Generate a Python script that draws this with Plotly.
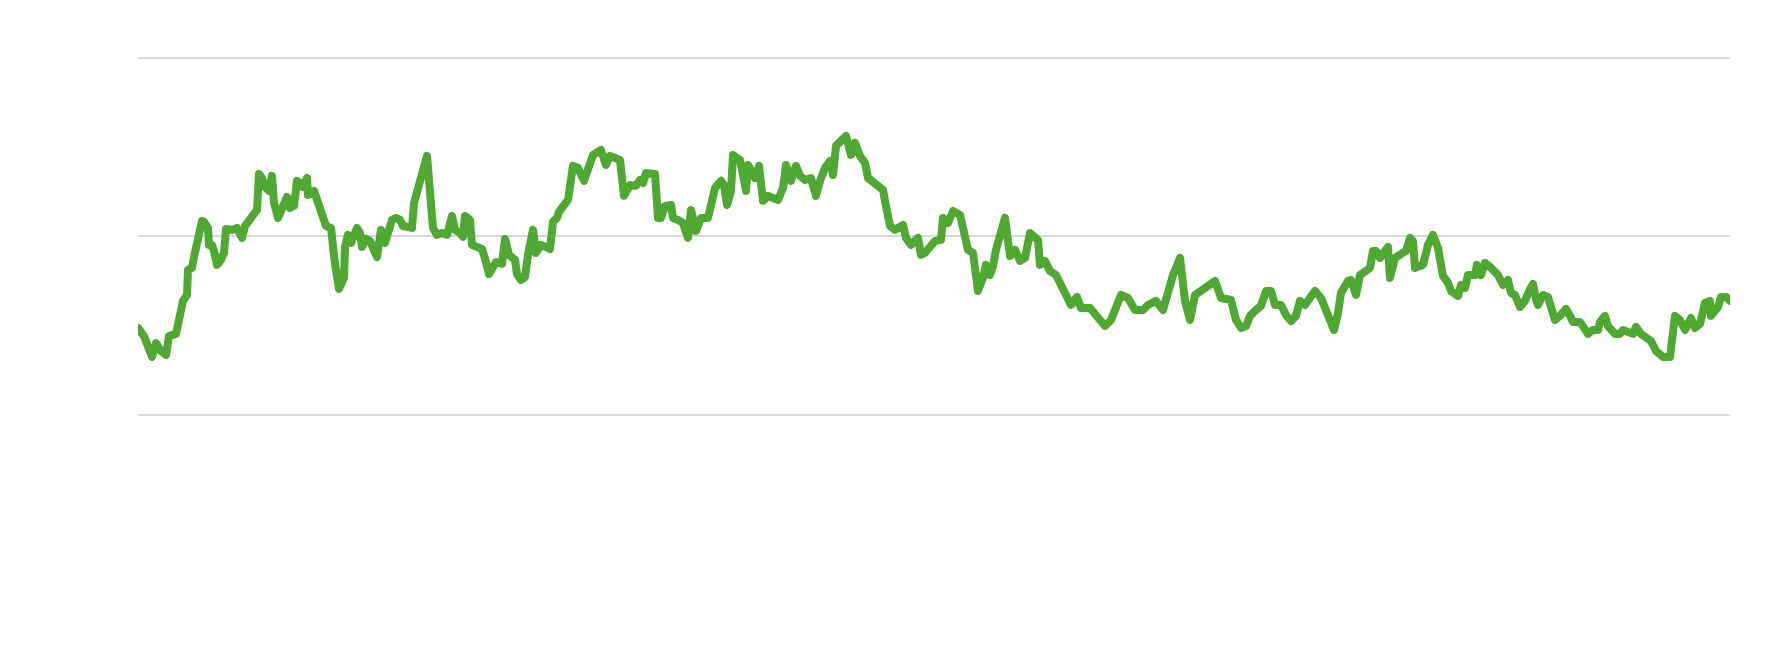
import plotly.graph_objects as go

# position along the series (time steps) and observed values
step = [0,6,14,18,23,28,31,35,38,45,
        49,50,54,56,59,61,64,66,70,71,
        74,76,79,83,86,88,94,99,104,107,
        112,115,119,121,124,127,131,134,136,140,
        144,149,152,156,159,165,169,170,176,180,
        186,188,193,195,197,201,206,207,210,213,
        216,219,222,224,228,232,239,243,247,250,
        254,258,262,265,274,276,279,283,289,295,
        299,304,309,314,317,322,325,327,332,334,
        344,348,351,358,364,367,371,377,379,383,
        387,390,395,398,403,408,412,415,419,421,
        430,435,440,446,450,455,463,468,472,482,
        486,492,498,502,505,508,517,520,523,527,
        533,535,540,545,550,553,558,563,570,573,
        577,583,586,589,593,595,602,608,610,613,
        617,621,625,630,640,645,648,653,658,662,
        667,673,678,682,687,692,695,698,703,708,
        713,717,722,727,730,737,745,748,752,757,
        765,768,773,780,783,787,797,803,805,810,
        815,822,825,830,835,840,845,848,852,855,
        858,862,867,872,877,882,887,892,900,902,
        907,912,918,923,928,933,939,943,952,960,
        967,973,978,983,990,997,1005,1010,1018,1025,
        1035,1042,1047,1052,1057,1063,1068,1077,1083,1093,
        1098,1103,1108,1112,1117,1123,1128,1133,1137,1143,
        1148,1153,1158,1162,1167,1177,1183,1192,1196,1200,
        1203,1210,1213,1218,1222,1232,1235,1238,1242,1250,
        1252,1257,1268,1272,1275,1277,1285,1290,1295,1300,
        1305,1310,1313,1320,1323,1327,1330,1337,1339,1343,
        1347,1353,1360,1365,1370,1373,1377,1382,1387,1392,
        1395,1398,1400,1405,1410,1413,1417,1422,1428,1432,
        1435,1442,1445,1450,1455,1460,1462,1467,1470,1477,
        1482,1485,1495,1498,1503,1513,1518,1525,1532,1535,
        1537,1542,1547,1550,1553,1557,1562,1567,1572,1573,
        1580,1583,1588,1592]

value = [48.6,44.1,32.4,40.2,35.7,33.5,44.1,45.3,45.3,63.8,
         67.1,81.2,82.3,88.4,96.3,100.8,108.6,108.1,104.7,95.2,
         95.2,91.8,84.0,86.8,90.7,104.1,103.6,104.7,99.1,105.8,
         110.3,112.6,114.8,135.0,132.7,127.7,125.5,133.9,118.7,110.3,
         117.0,122.1,115.9,117.0,131.1,127.7,132.7,123.2,125.5,119.9,
         111.4,105.8,104.7,88.4,84.5,70.5,76.7,94.1,100.8,96.3,
         99.7,104.7,101.9,94.1,98.5,97.4,88.4,103.6,96.3,100.8,
         109.2,110.3,109.2,105.8,104.7,118.7,125.5,133.9,145.1,104.7,
         100.8,101.9,100.8,111.4,103.6,101.9,99.7,111.4,109.2,95.2,
         92.9,85.6,78.9,85.6,84.5,98.5,89.6,86.8,78.9,75.5,
         77.2,89.6,103.6,90.7,95.2,94.1,92.9,108.1,110.3,113.7,
         120.4,139.5,138.4,131.1,138.4,145.6,148.4,140.0,145.1,142.8,
         122.7,128.8,128.3,131.6,129.9,135.5,135.0,110.3,110.3,117.0,
         117.6,110.3,109.2,107.5,99.1,114.8,103.0,110.3,110.3,117.6,
         127.1,131.1,128.8,117.6,125.5,145.6,142.8,125.5,140.0,137.2,
         132.7,139.5,119.9,122.7,120.4,127.1,140.0,131.1,139.5,133.9,
         131.6,132.7,122.7,131.1,138.4,142.3,134.4,150.7,153.5,156.3,
         145.6,152.4,145.1,141.2,132.7,129.9,126.0,117.0,105.8,103.6,
         106.4,99.1,95.2,99.1,89.6,90.7,97.4,98.0,110.3,107.5,
         114.2,112.0,104.7,92.4,90.7,69.4,76.7,84.0,78.3,83.4,
         92.4,100.8,110.3,89.0,92.4,86.2,87.9,101.9,98.0,84.0,
         86.2,80.6,78.3,72.7,67.1,61.5,66.0,59.8,59.8,54.2,
         49.7,53.1,59.8,67.1,65.4,58.7,58.7,61.5,63.8,58.7,
         78.3,87.9,63.8,53.1,67.1,69.4,71.1,75.0,65.4,64.3,
         53.1,48.6,49.7,55.4,58.2,61.0,69.4,69.4,61.5,61.5,
         55.9,52.5,55.4,63.8,61.5,69.4,65.4,53.1,47.5,57.0,
         68.3,75.0,75.5,67.1,78.3,82.3,91.8,91.8,87.9,94.1,
         76.7,87.9,91.8,99.1,97.4,82.3,84.0,95.2,100.8,93.5,
         77.8,73.9,69.4,66.6,72.7,71.1,78.3,78.3,84.0,78.3,
         85.1,82.3,78.3,72.7,75.5,68.3,67.1,60.4,63.8,70.5,
         73.3,64.9,61.5,67.1,66.0,60.4,53.1,55.4,59.3,55.4,
         52.0,52.0,48.6,45.3,47.5,47.5,52.0,55.4,49.7,45.3,
         45.3,47.5,45.3,49.2,45.3,41.3,35.7,32.4,32.4,50.9,
         55.4,53.1,47.5,50.9,54.2,48.6,50.9,62.6,63.8,55.4,
         60.4,66.0,66.0,63.8]

grid_values = [0, 100, 200]

fig = go.Figure()
fig.add_trace(go.Scatter(
    x=step, y=value, mode="lines",
    line=dict(color="#4fa832", width=8, shape="linear"),
    hoverinfo="skip", showlegend=False, cliponaxis=False,
))

fig.update_layout(
    width=1773, height=651,
    margin=dict(l=130, r=51, t=20, b=171),
    paper_bgcolor="white", plot_bgcolor="white",
    xaxis=dict(range=[0, 1592], showgrid=False, zeroline=False,
               showticklabels=False, showline=False, ticks=""),
    yaxis=dict(range=[-41.1, 216.8], tickvals=grid_values,
               showgrid=True, gridcolor="#d9d9d9", gridwidth=2,
               zeroline=False, showticklabels=False, showline=False, ticks=""),
)

round_joins = """
var style = document.createElement('style');
style.innerHTML = '.scatterlayer path.js-line { stroke-linejoin: round !important; stroke-linecap: round !important; }';
document.head.appendChild(style);
"""

fig.write_html("out.html", post_script=round_joins)
